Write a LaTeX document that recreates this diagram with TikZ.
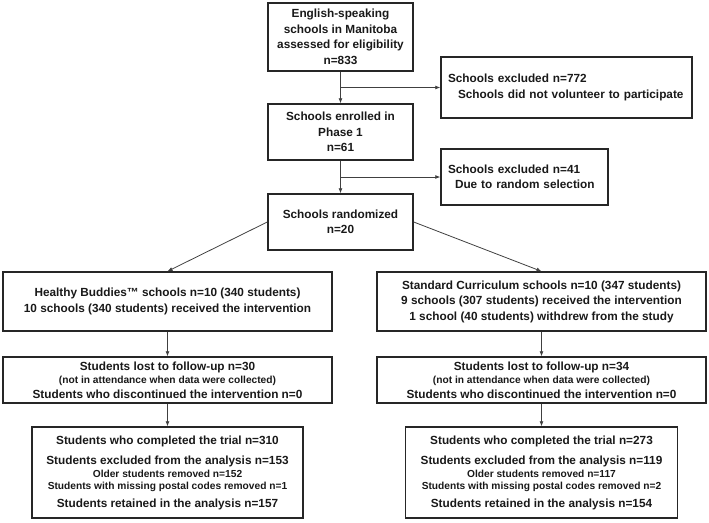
\documentclass[tikz,border=0pt]{standalone}
\usepackage{fontspec}
\setmainfont{Liberation Sans}
\usetikzlibrary{arrows.meta}

\newcommand{\smalltxt}{\fontsize{10.2}{12}\selectfont}

\begin{document}
\begin{tikzpicture}[x=1pt, y=-1pt,
    flowbox/.style={draw=black!85, line width=1.4pt, rectangle, align=center, inner sep=2pt,
        text=black!90, font=\bfseries\fontsize{11.8}{15.5}\selectfont},
    excbox/.style={flowbox, align=left, inner sep=7pt},
    arr/.style={-{Latex[length=5pt,width=4pt]}, draw=black!75, line width=0.8pt}]
    \useasboundingbox (0,0) rectangle (709,522);

    % Nodes
    \node (elig) [flowbox, minimum width=145pt, minimum height=68pt] at (340.5,37) {English-speaking\\schools in Manitoba\\assessed for eligibility\\n=833};
    \node (excl1) [excbox, text width=237pt, minimum height=61pt] at (566.5,87.5) {Schools excluded n=772\\\hspace*{10pt}Schools did not volunteer to participate};
    \node (enrol) [flowbox, minimum width=145pt, minimum height=56pt] at (340.5,132) {Schools enrolled in\\Phase 1\\n=61};
    \node (excl2) [excbox, text width=153pt, minimum height=56pt] at (524.5,177) {Schools excluded n=41\\\hspace*{7pt}Due to random selection};
    \node (rand) [flowbox, minimum width=145pt, minimum height=56pt] at (340.5,222) {Schools randomized\\n=20};

    \node (hb) [flowbox, minimum width=329pt, minimum height=59pt] at (167.5,301.5) {Healthy Buddies™ schools n=10 (340 students)\\10 schools (340 students) received the intervention};
    \node (sc) [flowbox, minimum width=329pt, minimum height=59pt] at (541.5,301.5) {Standard Curriculum schools n=10 (347 students)\\9 schools (307 students) received the intervention\\1 school (40 students) withdrew from the study};

    \node (lostL) [flowbox, minimum width=329pt, minimum height=46pt] at (167.5,380) {Students lost to follow-up n=30\\[-2pt]{\smalltxt (not in attendance when data were collected)}\\[-1pt]Students who discontinued the intervention n=0};
    \node (lostR) [flowbox, minimum width=329pt, minimum height=46pt] at (541.5,380) {Students lost to follow-up n=34\\[-2pt]{\smalltxt (not in attendance when data were collected)}\\[-1pt]Students who discontinued the intervention n=0};

    \node (finL) [flowbox, minimum width=271pt, minimum height=91pt] at (167.5,472.5) {Students who completed the trial n=310\\[5pt]Students excluded from the analysis n=153\\[-3pt]{\smalltxt Older students removed n=152}\\[-3pt]{\smalltxt Students with missing postal codes removed n=1}\\[2pt]Students retained in the analysis n=157};
    \node (finR) [flowbox, minimum width=272pt, minimum height=91pt] at (541.5,472.5) {Students who completed the trial n=273\\[5pt]Students excluded from the analysis n=119\\[-3pt]{\smalltxt Older students removed n=117}\\[-3pt]{\smalltxt Students with missing postal codes removed n=2}\\[2pt]Students retained in the analysis n=154};

    % Arrows
    \coordinate (split1) at (elig.south |- excl1.west);
    \coordinate (split2) at (enrol.south |- excl2.west);
    \draw[arr] (elig) -- (enrol);
    \draw[arr] (split1) -- (excl1);
    \draw[arr] (enrol) -- (rand);
    \draw[arr] (split2) -- (excl2);
    \draw[arr] (rand.west) -- (hb.north);
    \draw[arr] (rand.east) -- (sc.north);
    \draw[arr] (hb) -- (lostL);
    \draw[arr] (sc) -- (lostR);
    \draw[arr] (lostL) -- (finL);
    \draw[arr] (lostR) -- (finR);
\end{tikzpicture}
\end{document}
